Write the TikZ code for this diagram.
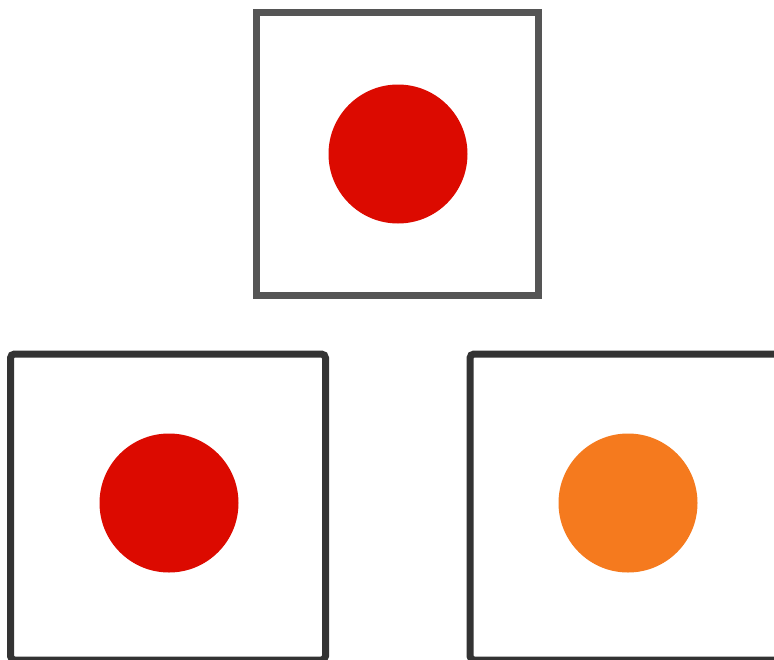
\documentclass[tikz,border=0pt]{standalone}
\usepackage{tikz}
\definecolor{topgray}{HTML}{555555}
\definecolor{botgray}{HTML}{333333}
\definecolor{dotred}{HTML}{DC0A00}
\definecolor{dotorange}{HTML}{F57A1E}
\tikzset{
  framebox/.style={draw, rectangle, inner sep=0pt, line width=7pt},
  dot/.style={circle, inner sep=0pt, minimum size=139pt, draw=none},
}
\begin{document}
\begin{tikzpicture}[x=1pt,y=-1pt]
\useasboundingbox (0,0) rectangle (774,659);
\clip (0,0) rectangle (774,659);
\fill[white] (0,0) rectangle (774,659);
\node[framebox, draw=topgray, minimum width=282pt, minimum height=283pt] (top) at (397.5,154) {};
\node[framebox, draw=botgray, rounded corners=4pt, minimum width=315pt, minimum height=306pt] (left) at (168,507) {};
\node[framebox, draw=botgray, rounded corners=4pt, minimum width=316pt, minimum height=306pt] (right) at (628,507) {};
\node[dot, fill=dotred] (c1) at (398,154) {};
\node[dot, fill=dotred] (c2) at (169,503) {};
\node[dot, fill=dotorange] (c3) at (628,503) {};
\end{tikzpicture}
\end{document}
